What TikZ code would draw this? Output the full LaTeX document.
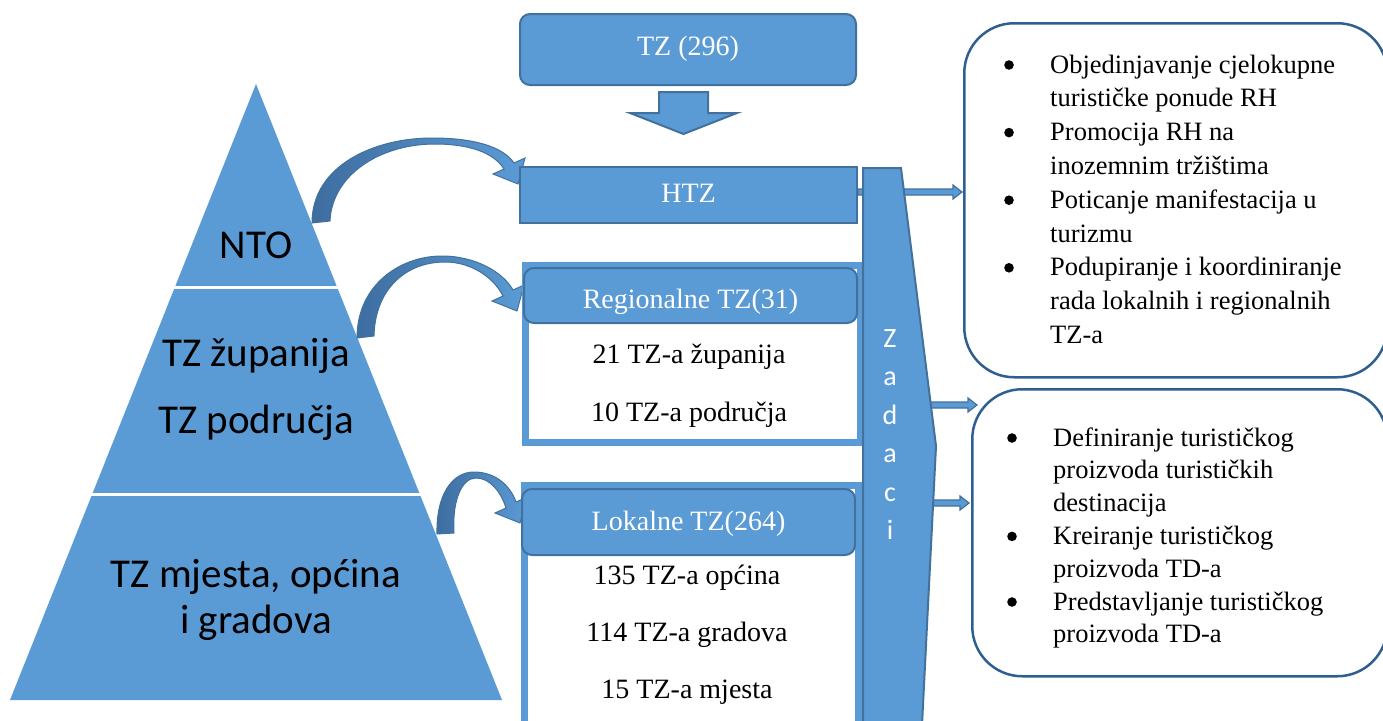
\documentclass[tikz,border=0pt]{standalone}
\usepackage{fontspec}
\setmainfont{Liberation Serif}
\newfontfamily\calibri{Carlito}
\usetikzlibrary{calc}
\definecolor{bfill}{HTML}{5B9BD5}
\definecolor{bline}{HTML}{41719C}
\definecolor{bdark}{HTML}{3E6DA0}
\definecolor{rline}{HTML}{2F5F91}
\pgfdeclarelayer{bg}
\pgfsetlayers{bg,main}
\newcommand{\blockarr}[2]{\path[barrow] ($(#1)+(0,-3)$) -- ($(#2)+(-9,-3)$) -- ($(#2)+(-9,-7)$) -- (#2) -- ($(#2)+(-9,7)$) -- ($(#2)+(-9,3)$) -- ($(#1)+(0,3)$) -- cycle;}
\begin{document}
\begin{tikzpicture}[x=1pt,y=-1pt,
  bluebox/.style={fill=bfill,draw=bline,line width=2pt,inner sep=0pt,anchor=north west},
  framebox/.style={fill=white,draw=bfill,line width=7pt,inner sep=0pt,anchor=north west},
  hdr/.style={fill=bfill,draw=bline,line width=2pt,rounded corners=10pt,inner sep=0pt,anchor=north west},
  rbox/.style={fill=white,draw=rline,line width=2.5pt,rounded corners=50pt,inner sep=0pt,anchor=north west},
  wtxt/.style={text=white,font=\fontsize{28}{34}\selectfont,anchor=base,inner sep=0pt},
  btxt/.style={text=black,font=\fontsize{28}{34}\selectfont,anchor=base,inner sep=0pt},
  ptxt/.style={text=black,font=\calibri\fontsize{41}{50}\selectfont,anchor=base,inner sep=0pt},
  ztxt/.style={text=white,font=\calibri\fontsize{28}{30}\selectfont,anchor=base,inner sep=0pt},
  ltxt/.style={text=black,font=\fontsize{26.5}{33.8}\selectfont,anchor=base west,inner sep=0pt},
  dot/.style={fill=black},
  curvarr/.style={left color=bdark,right color=bfill,draw=bline,line width=1pt},
  barrow/.style={fill=bfill,draw=bline,line width=1.2pt},
  downarr/.style={fill=bfill,draw=bline,line width=2pt}
]
\useasboundingbox (0,0) rectangle (1383,720);

% pyramid
\fill[bfill] (256,84) -- (502,700) -- (10,700) -- cycle;
\draw[white,line width=3pt] (160,287) -- (350,287);
\draw[white,line width=3pt] (80,494) -- (430,494);
\node[ptxt] (nto) at (256,258) {NTO};
\node[ptxt] (tzz) at (256,366) {TZ županija};
\node[ptxt] (tzp) at (256,433) {TZ područja};
\node[ptxt] (tzm) at (256,587) {TZ mjesta, općina};
\node[ptxt] (tzg) at (256,633) {i gradova};

% curved arrows
\path[curvarr] (312,223) .. controls (312,165) and (375,138) .. (432,138)
  .. controls (475,138) and (503,147) .. (514,163) -- (525,158) -- (518,184) -- (493,174) -- (504,169)
  .. controls (494,153) and (470,144) .. (435,144) .. controls (380,144) and (332,175) .. (330,221) -- cycle;
\path[curvarr] (357,338) .. controls (357,285) and (400,256) .. (442,256)
  .. controls (475,256) and (503,272) .. (513,290) -- (524,285) -- (517,311) -- (492,301) -- (503,296)
  .. controls (494,278) and (472,262) .. (445,262) .. controls (405,262) and (375,290) .. (374,336) -- cycle;
\path[curvarr] (437,534) .. controls (436,495) and (452,472) .. (474,472)
  .. controls (495,472) and (510,485) .. (516,502) -- (527,497) -- (520,523) -- (495,513) -- (506,508)
  .. controls (501,492) and (490,478) .. (476,478) .. controls (462,478) and (452,500) .. (454,533) -- cycle;

% top box and down arrow
\node[bluebox,rounded corners=10pt,minimum width=336pt,minimum height=71pt] (tz) at (519,13) {};
\node[wtxt] (tzt) at (tz.center |- 0,55) {TZ (296)};
\path[downarr] (659,92) -- (708,92) -- (708,113) -- (737,113) -- (683.5,134) -- (630,113) -- (659,113) -- cycle;

% HTZ
\node[bluebox,minimum width=337pt,minimum height=56pt] (htz) at (519,166) {};
\node[wtxt] (htzt) at (htz.center |- 0,202) {HTZ};

% Regional
\node[framebox,minimum width=335pt,minimum height=177pt] (rf) at (521.5,261.5) {};
\node[hdr,minimum width=333pt,minimum height=55pt] (rh) at (523,267) {};
\node[wtxt] (rht) at (rh.center |- 0,308) {Regionalne TZ(31)};
\node[btxt] (r1) at (689,363) {21 TZ-a županija};
\node[btxt] (r2) at (689,421) {10 TZ-a područja};

% Lokalne
\node[framebox,minimum width=334pt,minimum height=260pt] (lf) at (520.5,481.5) {};
\node[hdr,minimum width=333pt,minimum height=66pt] (lh) at (521,488) {};
\node[wtxt] (lht) at (lh.center |- 0,530) {Lokalne TZ(264)};
\node[btxt] (l1) at (687,584) {135 TZ-a općina};
\node[btxt] (l2) at (687,641) {114 TZ-a gradova};
\node[btxt] (l3) at (687,698) {15 TZ-a mjesta};

% Zadaci
\path[fill=bfill,draw=bline,line width=2pt] (863,168) -- (901,168) -- (936,446) -- (922,725) -- (863,725) -- cycle;
\foreach \c [count=\i from 0] in {Z,a,d,a,c,i}
  \node[ztxt] (z\i) at (890,347+38.5*\i) {\c};

% right boxes
\node[rbox,minimum width=423pt,minimum height=354pt] (rb1) at (963,22) {};
\node[rbox,minimum width=415pt,minimum height=287pt] (rb2) at (971,388) {};

\node[ltxt] (t1) at (1050,73) {\begin{tabular}[t]{@{}l@{}}
Objedinjavanje cjelokupne\\
turističke ponude RH\\
Promocija RH na\\
inozemnim tržištima\\
Poticanje manifestacija u\\
turizmu\\
Podupiranje i koordiniranje\\
rada lokalnih i regionalnih\\
TZ-a
\end{tabular}};
\foreach \k in {0,2,4,6}
  \fill[dot] (1009,65+33.8*\k) circle (4.8pt);

\node[ltxt,font=\fontsize{26.5}{32.8}\selectfont] (t2) at (1053,446) {\begin{tabular}[t]{@{}l@{}}
Definiranje turističkog\\
proizvoda turističkih\\
destinacija\\
Kreiranje turističkog\\
proizvoda TD-a\\
Predstavljanje turističkog\\
proizvoda TD-a
\end{tabular}};
\foreach \k in {0,3,5}
  \fill[dot] (1012,438+32.8*\k) circle (4.8pt);

% block arrows (behind)
\coordinate (a1s) at ($(htz.east)+(0,-3)$);
\coordinate (a1e) at ($(rb1.west |- a1s)+(-1,0)$);
\coordinate (a2s) at (rf.east |- 0,405);
\coordinate (a2e) at ($(rb2.west |- a2s)+(6,0)$);
\coordinate (a3s) at (lf.east |- 0,503);
\coordinate (a3e) at ($(rb2.west |- a3s)+(-2,0)$);
\begin{pgfonlayer}{bg}
\blockarr{a1s}{a1e}
\blockarr{a2s}{a2e}
\blockarr{a3s}{a3e}
\end{pgfonlayer}
\end{tikzpicture}
\end{document}
